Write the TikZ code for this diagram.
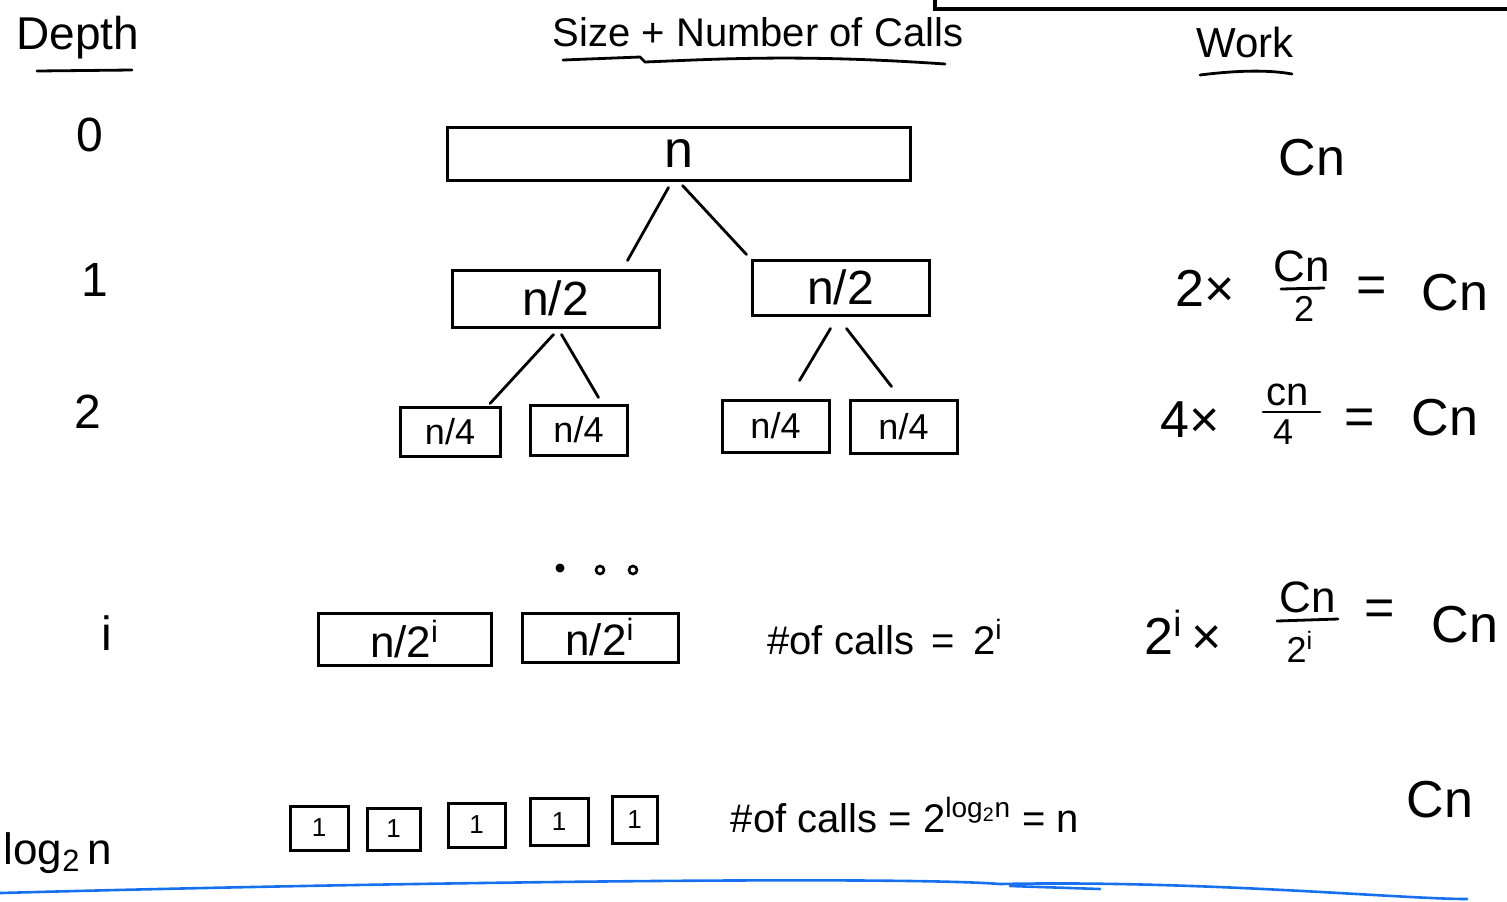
\documentclass[tikz,border=0pt]{standalone}
\usepackage{fontspec}
\setmainfont{Liberation Sans}
\begin{document}
\begin{tikzpicture}[x=0.5pt,y=-0.5pt,
  box/.style={draw, line width=1.5pt, inner sep=0pt},
  ink/.style={line width=1.4pt, line cap=round, line join=round},
  head/.style={inner sep=0pt, font=\fontsize{21}{24}\selectfont},
  big/.style={inner sep=0pt, font=\fontsize{24}{28}\selectfont},
  work/.style={inner sep=0pt, font=\fontsize{26}{30}\selectfont},
  num/.style={inner sep=0pt, font=\fontsize{22}{26}\selectfont},
  den/.style={inner sep=0pt, font=\fontsize{18}{22}\selectfont},
  mid/.style={inner sep=0pt, font=\fontsize{20}{24}\selectfont},
  small/.style={font=\fontsize{18}{20}\selectfont},
  tiny/.style={font=\fontsize{13}{15}\selectfont},
  bluepen/.style={draw=blueink, line width=1.3pt, line cap=round}]
\definecolor{blueink}{RGB}{22,112,240}
\useasboundingbox (0,0) rectangle (1507,901);

% frame corner at top right
\draw[line width=2pt] (935,0) -- (935,9) -- (1507,9);

% headings
\node[head, font=\fontsize{23}{26}\selectfont] (hdepth) at (78,38) {Depth};
\node[head, font=\fontsize{20}{24}\selectfont] (hsize) at (758,32) {Size + Number of Calls};
\node[head] (hwork) at (1245,42) {Work};
\draw[ink] (37,71) -- (132,70);
\draw[ink] (563,60) -- (640,57) -- (645,62) .. controls (720,59) and (800,54) .. (945,64);
\draw[ink] (1200,75) .. controls (1240,70) and (1270,70) .. (1292,74);

% depth column
\node[big] (d0) at (90,135) {0};
\node[big] (d1) at (95,280) {1};
\node[big] (d2) at (88,412) {2};
\node[big] (di) at (107,633) {i};
\node[big, font=\fontsize{22}{26}\selectfont] (dlog) at (58,853) {log\textsubscript{2}\,n};

% level 0
\node[box, minimum width=231.5pt, minimum height=26.5pt, font=\fontsize{26}{30}\selectfont] (root) at (678.5,153.5) {n};
% level 1
\node[box, minimum width=103.5pt, minimum height=28.5pt, font=\fontsize{24}{28}\selectfont] (l1a) at (555.5,298.5) {n/2};
\node[box, minimum width=88.5pt, minimum height=27.5pt, font=\fontsize{24}{28}\selectfont] (l1b) at (840.5,287.5) {n/2};
% level 2
\node[box, small, minimum width=50pt, minimum height=24.5pt] (l2a) at (450,431.5) {n/4};
\node[box, small, minimum width=48.5pt, minimum height=25pt] (l2b) at (578.5,430) {n/4};
\node[box, small, minimum width=53.5pt, minimum height=26pt] (l2c) at (775.5,426) {n/4};
\node[box, small, minimum width=53.5pt, minimum height=26.5pt] (l2d) at (903.5,426.5) {n/4};

% edges
\draw[ink] ([xshift=-5pt,yshift=-3pt]root.south) -- ([xshift=36pt,yshift=4pt]l1a.north);
\draw[ink] ([xshift=2pt,yshift=-2pt]root.south) -- ([xshift=-2pt,yshift=2pt]l1b.north west);
\draw[ink] ([xshift=-1pt,yshift=-3pt]l1a.south) -- ([xshift=20pt,yshift=1pt]l2a.north);
\draw[ink] ([xshift=3pt,yshift=-3pt]l1a.south) -- ([xshift=10pt,yshift=3pt]l2b.north);
\draw[ink] ([xshift=-5pt,yshift=-6pt]l1b.south) -- ([xshift=12pt,yshift=9pt]l2c.north);
\draw[ink] ([xshift=3pt,yshift=-6pt]l1b.south) -- ([xshift=-6pt,yshift=6pt]l2d.north);

% dots
\fill (560,568) circle (4.5);
\draw[line width=1.3pt] (600,570) circle (4);
\draw[line width=1.3pt] (633,570) circle (4);

% level i
\node[box, minimum width=86.5pt, minimum height=26pt, font=\fontsize{22}{26}\selectfont] (lia) at (404.5,639) {n/2\textsuperscript{i}};
\node[box, minimum width=78pt, minimum height=24.5pt, font=\fontsize{22}{26}\selectfont] (lib) at (600,637.5) {n/2\textsuperscript{i}};
\node[mid] (callsi) at (885,637) {\#of calls\, =\, 2\textsuperscript{i}};

% leaves
\node[box, tiny, minimum width=29pt, minimum height=22pt] (lf1) at (319,828) {1};
\node[box, tiny, minimum width=26.5pt, minimum height=21pt] (lf2) at (393.5,829) {1};
\node[box, tiny, minimum width=28.5pt, minimum height=22pt] (lf3) at (476.5,825) {1};
\node[box, tiny, minimum width=29pt, minimum height=23.5pt] (lf4) at (559,821.5) {1};
\node[box, tiny, minimum width=22.5pt, minimum height=23.5pt] (lf5) at (634.5,819.5) {1};
\node[mid] (callsn) at (905,815) {\#of calls = 2\textsuperscript{log\textsubscript{2}n} = n};

% work column
\node[work] (w0) at (1312,158) {Cn};

\node[work] (w1x) at (1205,288) {2×};
\node[num] (w1n) at (1302,266) {Cn};
\node[den] (w1d) at (1304,309) {2};
\draw[ink] (1281,289) -- (1324,288);
\node[work] (w1e) at (1372,290) {=};
\node[work] (w1r) at (1455,293) {Cn};

\node[work] (w2x) at (1190,420) {4×};
\node[num, font=\fontsize{20}{24}\selectfont] (w2n) at (1288,395) {cn};
\node[den] (w2d) at (1283,432) {4};
\draw[ink] (1263,412) -- (1320,412);
\node[work] (w2e) at (1360,422) {=};
\node[work] (w2r) at (1445,418) {Cn};

\node[work] (w3x) at (1183,632) {2\textsuperscript{i}\,×};
\node[num] (w3n) at (1308,597) {Cn};
\node[den] (w3d) at (1300,647) {2\textsuperscript{i}};
\draw[ink] (1277,621) -- (1338,619);
\node[work] (w3e) at (1380,613) {=};
\node[work] (w3r) at (1465,625) {Cn};

\node[work] (w4) at (1440,800) {Cn};

% blue line at the bottom
\draw[bluepen] (0,893) .. controls (400,882) and (900,876) .. (1000,884)
  .. controls (1200,880) and (1400,899) .. (1467,899);
\draw[bluepen] (1010,886) -- (1100,889);
\end{tikzpicture}
\end{document}
